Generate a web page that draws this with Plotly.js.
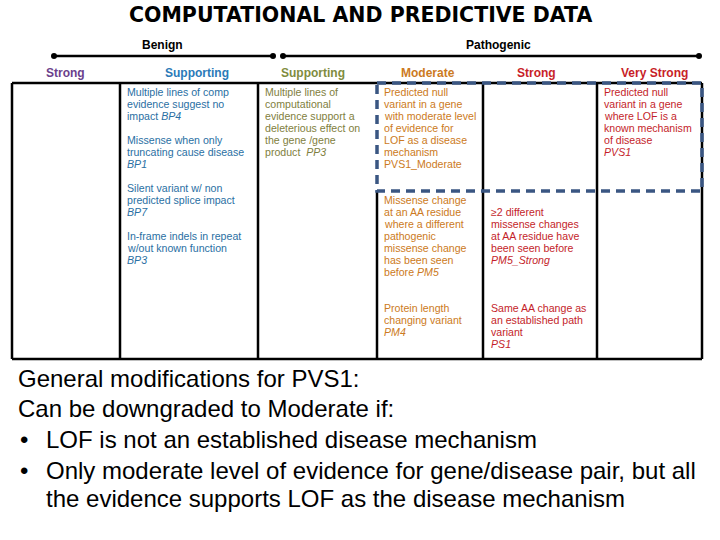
<!DOCTYPE html>
<html>
<head>
<meta charset="utf-8">
<script src="https://cdn.plot.ly/plotly-3.0.1.min.js"></script>
<style>html,body{margin:0;padding:0;background:#fff;}#chart{width:720px;height:540px;}</style>
</head>
<body>
<div id="chart"></div>
<script>
// ---- content ----
const chartTitle = "COMPUTATIONAL AND PREDICTIVE DATA";
const groupLabels = ["Benign", "Pathogenic"];
const columnHeaders = ["Strong", "Supporting", "Supporting", "Moderate", "Strong", "Very Strong"];
const headerColors = ["#6b3f8c", "#2a7ab8", "#7f8c3e", "#cc7a22", "#c81e28", "#c81e28"];
const cellColors = ["#6b3f8c", "#2a6fa3", "#7f8040", "#cc7a22", "#c41e2a", "#c41e2a"];

const benignSupporting = [
  ["Multiple lines of comp", "evidence suggest no", "impact <i>BP4</i>"],
  ["Missense when only", "truncating cause disease", "<i>BP1</i>"],
  ["Silent variant w/ non", "predicted splice impact", "<i>BP7</i>"],
  ["In-frame indels in repeat", "w/out known function", "<i>BP3</i>"]
];
const pathSupporting = [
  ["Multiple lines of", "computational", "evidence support a", "deleterious effect on", "the gene /gene", "product  <i>PP3</i>"]
];
const pathModerate = [
  ["Predicted null", "variant in a gene", "with moderate level", "of evidence for", "LOF as a disease", "mechanism", "PVS1_Moderate"],
  ["Missense change", "at an AA residue", "where a different", "pathogenic", "missense change", "has been seen", "before <i>PM5</i>"],
  ["Protein length", "changing variant", "<i>PM4</i>"]
];
const pathStrong = [
  ["≥2 different", "missense changes", "at AA residue have", "been seen before", "<i>PM5_Strong</i>"],
  ["Same AA change as", "an established path", "variant", "<i>PS1</i>"]
];
const pathVeryStrong = [
  ["Predicted null", "variant in a gene", "where LOF is a", "known mechanism", "of disease", "<i>PVS1</i>"]
];
const footnoteLines = [
  "General modifications for PVS1:",
  "Can be downgraded to Moderate if:"
];
const footnoteBullets = [
  "LOF is not an established disease mechanism",
  "Only moderate level of evidence for gene/disease pair, but all"
];
const footnoteContinuation = "the evidence supports LOF as the disease mechanism";

// ---- layout geometry ----
const colEdges = [12, 120, 258, 377, 483, 597, 702];
const tableTop = 83, tableBottom = 359, rowSplit = 191;
const headerCenters = [65, 197, 313, 428, 536, 654];
const lineH = 12;
const FONT = "Liberation Sans, Arial, sans-serif";

const annotations = [];
function txt(x, y, text, size, color, opts, family) {
  annotations.push(Object.assign({
    x: x, y: y, xref: "x", yref: "y", text: text, showarrow: false,
    xanchor: "left", yanchor: "middle", borderpad: 0,
    font: {family: family || FONT, size: size, color: color}
  }, opts || {}));
}

// title
txt(360, 15, "<b>" + chartTitle + "</b>", 20.5, "#000", {xanchor: "center"}, "DejaVu Sans, sans-serif");
// group labels
txt(162, 45, "<b>" + groupLabels[0] + "</b>", 12, "#000", {xanchor: "center"});
txt(498, 45, "<b>" + groupLabels[1] + "</b>", 12, "#000", {xanchor: "center"});
// headers
columnHeaders.forEach((h, i) => txt(headerCenters[i], 73, "<b>" + h + "</b>", 12, headerColors[i], {xanchor: "center"}));

function blocks(col, list, starts, xoff) {
  list.forEach((lines, b) => {
    lines.forEach((ln, k) => txt(colEdges[col] + xoff, starts[b] + k * lineH, ln, 10.6, cellColors[col]));
  });
}
blocks(1, benignSupporting, [92, 140, 188, 236], 6);
blocks(2, pathSupporting, [92], 6);
blocks(3, pathModerate, [92, 200, 308], 6);
blocks(4, pathStrong, [212, 308], 7);
blocks(5, pathVeryStrong, [92], 6);

// footnote
txt(17, 378, footnoteLines[0], 24, "#000");
txt(17, 408, footnoteLines[1], 24, "#000");
txt(19, 439, "•", 24, "#000");
txt(45, 439, footnoteBullets[0], 24, "#000");
txt(19, 470, "•", 24, "#000");
txt(45, 470, footnoteBullets[1], 24, "#000");
txt(45, 498, footnoteContinuation, 24, "#000");

// shapes
const shapes = [];
function ln(x0, y0, x1, y1, color, w, dash) {
  shapes.push({type: "line", xref: "x", yref: "y", x0: x0, y0: y0, x1: x1, y1: y1,
    line: {color: color, width: w, dash: dash || "solid"}});
}
ln(colEdges[0], tableTop, colEdges[6], tableTop, "#000", 2.5);
ln(colEdges[0], tableBottom, colEdges[6], tableBottom, "#000", 2.5);
[0, 1, 2, 4, 5, 6].forEach(i => ln(colEdges[i], tableTop, colEdges[i], tableBottom, "#000", 2.5));
ln(colEdges[3], rowSplit, colEdges[3], tableBottom, "#000", 2.5);
shapes.push({type: "rect", xref: "x", yref: "y", x0: colEdges[3], y0: tableTop, x1: colEdges[6], y1: rowSplit,
  line: {color: "#3a5682", width: 3.5, dash: "9px,6px"}, fillcolor: "rgba(0,0,0,0)"});

// arrow lines
const benignSpan = [54, 273];
const pathSpan = [283, 699];
const traces = [benignSpan, pathSpan].map(s => ({
  x: s, y: [56, 56], mode: "lines+markers", type: "scatter", hoverinfo: "skip",
  line: {color: "#000", width: 2.5}, marker: {color: "#000", size: 6}
}));

Plotly.newPlot("chart", traces, {
  width: 720, height: 540, margin: {l: 0, r: 0, t: 0, b: 0},
  paper_bgcolor: "#fff", plot_bgcolor: "#fff", showlegend: false,
  xaxis: {range: [0, 720], visible: false, fixedrange: true},
  yaxis: {range: [540, 0], visible: false, fixedrange: true},
  shapes: shapes, annotations: annotations
}, {staticPlot: true});
</script>
</body>
</html>
